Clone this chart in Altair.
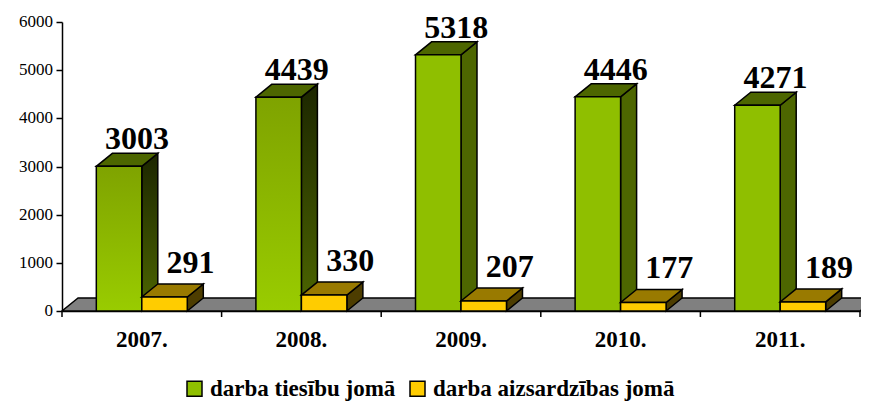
import json
import altair as alt
import pandas as pd

# ---- data ----
years = ["2007.", "2008.", "2009.", "2010.", "2011."]
tiesibu = [3003, 4439, 5318, 4446, 4271]        # darba tiesību jomā
aizsardzibas = [291, 330, 207, 177, 189]        # darba aizsardzības jomā
series_names = ["darba tiesību jomā", "darba aizsardzības jomā"]
y_ticks = [0, 1000, 2000, 3000, 4000, 5000, 6000]

# ---- layout / style ----
W, H = 798, 289
YMAX = 6000
N = len(years)
UNIT = W / N
DX = 16 / UNIT            # 3-D depth, horizontal (data units)
DY = 13 / H * YMAX        # 3-D depth, vertical (data units)
BW = 0.285                # bar width (fraction of a category)
FONT = "Liberation Serif"

rows = []
for i, yr in enumerate(years):
    for s, vals in enumerate([tiesibu, aizsardzibas]):
        for pt in (0, 1):
            rows.append({"year": yr, "idx": i, "s": s, "series": series_names[s],
                         "value": vals[i], "pt": pt, "key": f"{i}-{s}"})
df = pd.DataFrame(rows)

floor_df = pd.DataFrame({"pt": [0, 1], "n": [N, N]})
bounds_df = pd.DataFrame({"b": list(range(N + 1))})
years_df = pd.DataFrame({"year": years, "idx": list(range(N))})
yticks_df = pd.DataFrame({"t": y_ticks})

xscale = alt.Scale(domain=[0, N], nice=False, zero=False)
yscale = alt.Scale(domain=[0, YMAX], nice=False, zero=False)

xaxis = alt.Axis(values=[i + 0.5 for i in range(N)], labels=False,
                 ticks=False, grid=False, domainColor="black", domainWidth=1.5,
                 title=None)
yaxis = alt.Axis(values=y_ticks, labels=False, grid=False, domainColor="black",
                 domainWidth=1.5, tickColor="black", tickSize=6, tickWidth=1.5,
                 title=None)


def X(f):
    return alt.X(f, type="quantitative", scale=xscale, axis=xaxis, title=None)


def Y(f):
    return alt.Y(f, type="quantitative", scale=yscale, axis=yaxis, title=None)


base = alt.Chart(df).transform_calculate(
    x0=f"datum.idx + 0.5 - {BW} + datum.s * {BW}",
).transform_calculate(
    x1=f"datum.x0 + {BW}",
    zero="0",
    xs=f"datum.x0 + {BW} + datum.pt * {DX}",
    ys=f"datum.value + datum.pt * {DY}",
    ys2=f"datum.pt * {DY}",
    yt=f"datum.value + datum.pt * {DY}",
    xt=f"datum.x0 + datum.pt * {DX}",
    xt2=f"datum.x0 + {BW} + datum.pt * {DX}",
    xl=f"datum.x0 + {BW} / 2 + {DX}",
    yl=f"datum.value + {DY}",
)

STROKE = dict(stroke="black", strokeWidth=1.5)

floor = alt.Chart(floor_df).transform_calculate(
    fy=f"datum.pt * {DY}", fx=f"datum.pt * {DX}", fx2=f"datum.n + datum.pt * {DX}"
).mark_area(orient="horizontal", fill="#808080", clip=False, **STROKE).encode(
    y=Y("fy"), x=X("fx"), x2="fx2"
)

ticks = alt.Chart(bounds_df).mark_rule(color="black", strokeWidth=1.5).encode(
    x=X("b"), y=alt.value(H), y2=alt.value(H + 6)
)

year_labels = alt.Chart(years_df).transform_calculate(
    xc="datum.idx + 0.5"
).mark_text(font="Times New Roman", fontWeight="bold", fontSize=23, color="black",
            baseline="alphabetic", align="center").encode(
    x=X("xc"), y=alt.value(H + 36), text="year:N")

y_labels = alt.Chart(yticks_df).mark_text(
    font="serif", fontSize=17, color="black", baseline="middle", align="right", dx=-9
).encode(x=alt.value(0), y=Y("t"), text="t:Q")


def grad(top, bottom):
    return alt.Gradient(gradient="linear",
                        stops=[alt.GradientStop(color=top, offset=0),
                               alt.GradientStop(color=bottom, offset=1)],
                        x1=0, x2=0, y1=0, y2=1)


def side(cond, fill):
    return base.transform_filter(cond).mark_area(orient="vertical", fill=fill, clip=False,
                                                  **STROKE).encode(
        x=X("xs"), y=Y("ys"), y2="ys2", detail="key:N")


def top(cond, fill):
    return base.transform_filter(cond).mark_area(orient="horizontal", fill=fill, clip=False,
                                                  **STROKE).encode(
        y=Y("yt"), x=X("xt"), x2="xt2", detail="key:N")


color = alt.Color("series:N",
                  scale=alt.Scale(domain=series_names, range=["#8fbf00", "#ffcc00"]),
                  legend=alt.Legend(orient="none", legendX=121, legendY=355,
                                    direction="horizontal", title=None,
                                    symbolType="square", symbolSize=225,
                                    symbolStrokeColor="black", symbolStrokeWidth=1.5,
                                    symbolOpacity=1, labelFont="Liberation Serif, serif",
                                    labelFontWeight="bold", labelFontSize=23,
                                    labelColor="black", labelOffset=4, labelLimit=0,
                                    columnPadding=10))

green_grad_side = side("datum.s == 0 && datum.idx < 2", grad("#1c2600", "#4d6600"))
green_solid_side = side("datum.s == 0 && datum.idx >= 2", "#4d6600")
green_top = top("datum.s == 0", "#4d6600")

green_front_grad = base.transform_filter("datum.s == 0 && datum.idx < 2 && datum.pt == 0").mark_rect(
    fill=grad("#7fa300", "#99cc00"), **STROKE).encode(
    x=X("x0"), x2="x1", y=Y("value"), y2="zero")
green_front = base.transform_filter("datum.s == 0 && datum.idx >= 2 && datum.pt == 0").mark_rect(
    opacity=1, **STROKE).encode(
    x=X("x0"), x2="x1", y=Y("value"), y2="zero",
    color=color)

yellow_side = side("datum.s == 1", "#4d3d00")
yellow_top = top("datum.s == 1", "#997a00")
yellow_front = base.transform_filter("datum.s == 1 && datum.pt == 0").mark_rect(
    opacity=1, **STROKE).encode(
    x=X("x0"), x2="x1", y=Y("value"), y2="zero",
    color=color)

lab_green = base.transform_filter("datum.s == 0 && datum.pt == 0").mark_text(
    font=FONT, fontWeight="bold", fontSize=32, color="black",
    baseline="alphabetic", dx=2, dy=-4).encode(
    x=X("xl"), y=Y("yl"), text="value:Q")
lab_yellow = base.transform_filter("datum.s == 1 && datum.pt == 0").mark_text(
    font=FONT, fontWeight="bold", fontSize=32, color="black",
    baseline="alphabetic", dx=10, dy=-11).encode(
    x=X("xl"), y=Y("yl"), text="value:Q")

chart = alt.layer(
    floor, ticks,
    green_grad_side, green_solid_side, green_top, green_front_grad, green_front,
    yellow_side, yellow_top, yellow_front,
    lab_green, lab_yellow, year_labels, y_labels,
).properties(
    width=W, height=H,
    autosize=alt.AutoSizeParams(type="none"),
    padding={"left": 54, "top": 14, "right": 1, "bottom": 90},
).configure(
    background="white", font=FONT,
).configure_view(
    stroke=None
)

chart.save("out.html", embed_options={"renderer": "svg", "actions": False})
